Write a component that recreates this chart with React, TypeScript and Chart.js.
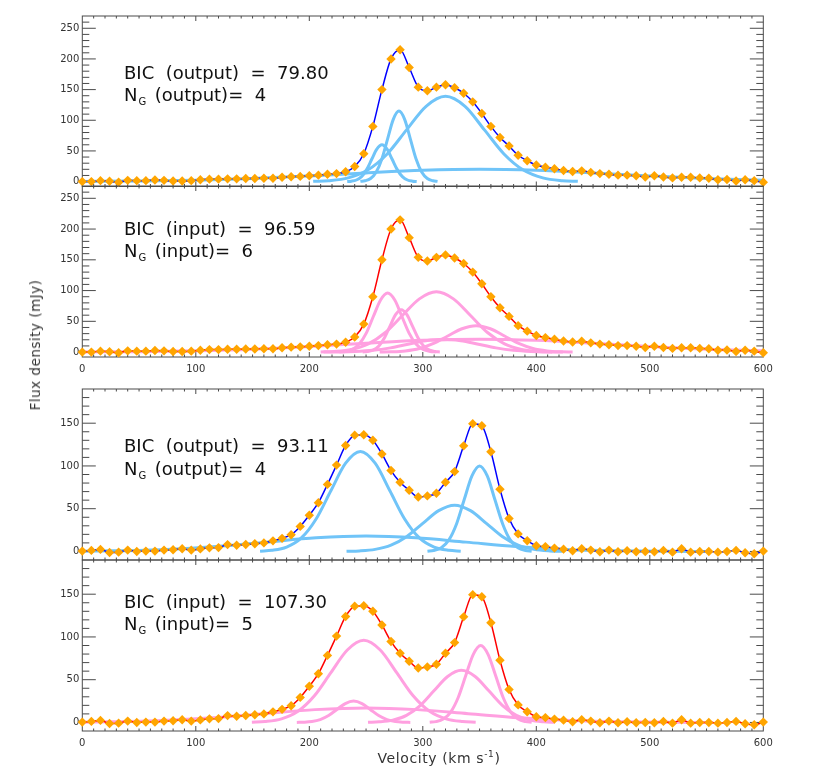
import React, { useEffect, useRef } from 'react';
import { Chart, registerables } from 'chart.js';

Chart.register(...registerables);

type Pair = [number, number];

// velocity channels (km/s)
const velocity = [
  0, 8, 16, 24, 32, 40, 48, 56, 64, 72,
  80, 88, 96, 104, 112, 120, 128, 136, 144, 152,
  160, 168, 176, 184, 192, 200, 208, 216, 224, 232,
  240, 248, 256, 264, 272, 280, 288, 296, 304, 312,
  320, 328, 336, 344, 352, 360, 368, 376, 384, 392,
  400, 408, 416, 424, 432, 440, 448, 456, 464, 472,
  480, 488, 496, 504, 512, 520, 528, 536, 544, 552,
  560, 568, 576, 584, 592, 600,
];

// observed spectrum used in the two upper panels (mJy)
const fluxA = [
  0, 0, 1.5, 0.5, -1, 2, 1.5, 1.5, 2.5, 2,
  1, 1, 1.5, 3, 4, 4, 4.5, 4.5, 5, 5,
  5.5, 5.5, 7, 8, 8.5, 9.5, 10.5, 12, 13, 16,
  24.5, 45.5, 90, 150, 200, 215, 186, 154, 148, 154,
  158, 153, 144, 130, 111, 90, 72, 58, 43, 34,
  27, 23.5, 21, 18, 16.5, 17.5, 15, 13, 12, 10.5,
  10.5, 9.5, 7.5, 9.5, 7.5, 6, 7, 7, 6, 5.5,
  3, 3.5, 1, 3, 1.5, -1,
];

// observed spectrum used in the two lower panels (mJy)
const fluxB = [
  0.4, 1.2, 2.4, -1.2, -0.8, 1.6, 0, 0.4, 0.4, 1.6,
  2, 3.1, 1.6, 3, 4.2, 4.5, 8, 7.3, 8.2, 9,
  10, 12.4, 15.3, 19.6, 29.3, 42.4, 57, 78.4, 101, 124,
  136, 136.5, 130, 114, 94.6, 81, 71.5, 63.6, 65, 68,
  81, 93.4, 123.5, 149.5, 147, 116.6, 72.8, 38.5, 20.5, 12.6,
  6.7, 5.7, 3.9, 2.7, 0.8, 3.1, 1.6, -0.4, 1.6, -0.4,
  0.8, -0.4, 0, -0.4, 1.2, -0.8, 3.1, -0.8, 0, 0,
  -0.8, 0, 1.2, -1.6, -2.7, 0.4,
];

// gaussian components, [velocity, flux]
const outA1: Pair[] = [[233.4, 0.19], [237, 0.67], [241.5, 2.6], [246, 8.1], [250.5, 19.5], [255, 36.4], [259.5, 53], [264, 60], [268.5, 53], [273, 36.4], [277.5, 19.5], [282, 8.1], [286.5, 2.6], [291, 0.67], [294.6, 0.19]];
const outA2: Pair[] = [[245, 0.36], [249, 1.3], [254, 5], [259, 15.6], [264, 37.3], [269, 69.7], [274, 101.5], [279, 115], [284, 101.5], [289, 69.7], [294, 37.3], [299, 15.6], [304, 5], [309, 1.3], [313, 0.36]];
const outA3: Pair[] = [[203.4, 0.43], [217.1, 1.54], [234.3, 6.1], [251.4, 18.8], [268.6, 45.1], [285.7, 84.3], [302.9, 122.7], [320, 139], [337.2, 122.7], [354.3, 84.3], [371.5, 45.1], [388.6, 18.8], [405.7, 6.1], [422.9, 1.54], [436.6, 0.43]];
const outA4: Pair[] = [[0, 0.28], [50, 0.88], [100, 2.3], [150, 5], [200, 9.2], [250, 14.1], [300, 18.3], [350, 20], [400, 18.3], [450, 14.1], [500, 9.2], [550, 5], [600, 2.3]];

const inA1: Pair[] = [[226.5, 0.3], [231.5, 1.07], [237.8, 4.2], [244, 13], [250.3, 31.2], [256.5, 58.2], [262.8, 84.7], [269, 96], [275.3, 84.7], [281.5, 58.2], [287.8, 31.2], [294, 13], [300.3, 4.2], [306.5, 1.07], [311.5, 0.3]];
const inA2: Pair[] = [[247, 0.21], [251, 0.77], [256, 3], [261, 9.3], [266, 22.4], [271, 41.8], [276, 60.9], [281, 69], [286, 60.9], [291, 41.8], [296, 22.4], [301, 9.3], [306, 3], [311, 0.77], [315, 0.21]];
const inA3: Pair[] = [[210, 0.3], [222, 1.09], [237, 4.3], [252, 13.3], [267, 31.8], [282, 59.4], [297, 86.5], [312, 98], [327, 86.5], [342, 59.4], [357, 31.8], [372, 13.3], [387, 4.3], [402, 1.09], [414, 0.3]];
const inA4: Pair[] = [[262, 0.13], [272, 0.48], [284.5, 1.9], [297, 5.8], [309.5, 14], [322, 26.1], [334.5, 37.9], [347, 43], [359.5, 37.9], [372, 26.1], [384.5, 14], [397, 5.8], [409.5, 1.9], [422, 0.48], [432, 0.13]];
const inA5: Pair[] = [[0, 0.2], [50, 0.7], [100, 2], [150, 4.6], [200, 9], [250, 14.4], [300, 19.1], [350, 21], [400, 19.1], [450, 14.4], [500, 9], [550, 4.6], [600, 2]];
const inA6: Pair[] = [[212.6, 0.07], [225, 0.23], [240.5, 0.92], [256, 2.8], [271.5, 6.8], [287, 12.7], [302.5, 18.5], [318, 21], [333.5, 18.5], [349, 12.7], [364.5, 6.8], [380, 2.8], [395.5, 0.92], [411, 0.23], [423.4, 0.07]];

const outB1: Pair[] = [[156.6, 0.36], [167, 1.3], [180, 5.1], [193, 15.8], [206, 38], [219, 71], [232, 103.3], [245, 117], [258, 103.3], [271, 71], [284, 38], [297, 15.8], [310, 5.1], [323, 1.3], [333.4, 0.36]];
const outB2: Pair[] = [[304.1, 0.31], [309.5, 1.11], [316.3, 4.4], [323, 13.5], [329.8, 32.5], [336.5, 60.7], [343.3, 88.3], [350, 100], [356.8, 88.3], [363.5, 60.7], [370.3, 32.5], [377, 13.5], [383.8, 4.4], [390.5, 1.11], [395.9, 0.31]];
const outB3: Pair[] = [[232.8, 0.17], [244, 0.6], [258, 2.4], [272, 7.3], [286, 17.5], [300, 32.8], [314, 47.7], [328, 54], [342, 47.7], [356, 32.8], [370, 17.5], [384, 7.3], [398, 2.4], [412, 0.6], [423.2, 0.17]];
const outB4: Pair[] = [[0, 0.32], [30, 0.79], [74, 2.4], [118, 5.8], [162, 10.9], [206, 15.9], [250, 18], [294, 15.9], [338, 10.9], [382, 5.8], [426, 2.4], [470, 0.79], [514, 0.2], [549, 0.06]];

const inB1: Pair[] = [[149.4, 0.3], [161, 1.07], [175.5, 4.2], [190, 13], [204.5, 31.2], [219, 58.2], [233.5, 84.7], [248, 96], [262.5, 84.7], [277, 58.2], [291.5, 31.2], [306, 13], [320.5, 4.2], [335, 1.07], [346.6, 0.3]];
const inB2: Pair[] = [[189, 0.08], [194.9, 0.28], [202.3, 1.1], [209.6, 3.4], [217, 8.1], [224.3, 15.2], [231.7, 22.1], [239, 25], [246.4, 22.1], [253.7, 15.2], [261.1, 8.1], [268.4, 3.4], [275.8, 1.1], [283.1, 0.28], [289, 0.08]];
const inB3: Pair[] = [[251.7, 0.19], [261.4, 0.68], [273.5, 2.7], [285.6, 8.3], [297.7, 19.8], [309.8, 37], [321.9, 53.8], [334, 61], [346.1, 53.8], [358.2, 37], [370.3, 19.8], [382.4, 8.3], [394.5, 2.7], [406.6, 0.68], [416.3, 0.19]];
const inB4: Pair[] = [[306.1, 0.28], [311.4, 1], [318, 4], [324.6, 12.2], [331.2, 29.2], [337.8, 54.6], [344.4, 79.4], [351, 90], [357.6, 79.4], [364.2, 54.6], [370.8, 29.2], [377.4, 12.2], [384, 4], [390.6, 1], [395.9, 0.28]];
const inB5: Pair[] = [[0, 0.36], [25, 0.75], [70, 2.3], [115, 5.5], [160, 10.3], [205, 15], [250, 17], [295, 15], [340, 10.3], [385, 5.5], [430, 2.3], [475, 0.75], [520, 0.19], [556, 0.05]];

// tick labels
const xTicks = [0, 100, 200, 300, 400, 500, 600];
const yTicksTall = [0, 50, 100, 150, 200, 250];
const yTicksShort = [0, 50, 100, 150];

const ORANGE = '#ffa500';
const BLUE = '#0000ff';
const RED = '#ff0000';
const SKY = '#70c4f8';
const PINK = '#ffa0e0';
const AXIS = '#4a4a4a';
const LABEL = '#333333';
const FONT = '"DejaVu Sans", sans-serif';

const PAD_TOP = 10;
const PAD_BOTTOM = 25;
const PLOT_LEFT = 82.3;
const PLOT_RIGHT = 763.3;
const WIDTH = 830;

interface PanelProps {
  top: number;
  bottom: number;
  yMin: number;
  yMax: number;
  yTicks: number[];
  showX: boolean;
  flux: number[];
  fitColor: string;
  compColor: string;
  comps: Pair[][];
  kind: string;
  bic: string;
  ng: string;
  textY: [number, number];
}

const Panel: React.FC<PanelProps> = (p) => {
  const canvasRef = useRef<HTMLCanvasElement>(null);

  useEffect(() => {
    if (!canvasRef.current) return;

    // IDL-style box: inward ticks on all four sides, labels left / bottom
    const frame = {
      id: 'idlFrame',
      beforeDatasetsDraw(chart: any) {
        const { ctx, chartArea: a, scales } = chart;
        const xs = scales.x;
        const ys = scales.y;
        ctx.save();
        ctx.strokeStyle = AXIS;
        ctx.lineWidth = 1;
        ctx.strokeRect(a.left, a.top, a.right - a.left, a.bottom - a.top);
        ctx.beginPath();
        for (let v = 10; v < 600; v += 10) {
          const px = xs.getPixelForValue(v);
          const len = v % 100 === 0 ? 5 : 2.5;
          ctx.moveTo(px, a.bottom);
          ctx.lineTo(px, a.bottom - len);
          ctx.moveTo(px, a.top);
          ctx.lineTo(px, a.top + len);
        }
        for (let v = 0; v < p.yMax; v += 10) {
          if (v <= p.yMin) continue;
          const py = ys.getPixelForValue(v);
          const len = v % 50 === 0 ? 13.5 : 7;
          ctx.moveTo(a.left, py);
          ctx.lineTo(a.left + len, py);
          ctx.moveTo(a.right, py);
          ctx.lineTo(a.right - len, py);
        }
        ctx.stroke();

        ctx.fillStyle = LABEL;
        ctx.font = `10px ${FONT}`;
        ctx.textAlign = 'right';
        ctx.textBaseline = 'middle';
        p.yTicks.forEach((v) => ctx.fillText(String(v), a.left - 3, ys.getPixelForValue(v)));
        if (p.showX) {
          ctx.textAlign = 'center';
          xTicks.forEach((v) => ctx.fillText(String(v), xs.getPixelForValue(v), a.bottom + 12.5));
        }
        ctx.restore();
      },
      afterDraw(chart: any) {
        const { ctx, chartArea: a } = chart;
        const x0 = 124;
        ctx.save();
        ctx.fillStyle = '#111';
        ctx.textAlign = 'left';
        ctx.textBaseline = 'alphabetic';
        ctx.font = `18px ${FONT}`;
        ctx.fillText(`BIC  (${p.kind})  =  ${p.bic}`, x0, a.top + p.textY[0]);
        const y2 = a.top + p.textY[1];
        ctx.fillText('N', x0, y2);
        const nW = ctx.measureText('N').width;
        ctx.font = `10px ${FONT}`;
        ctx.fillText('G', x0 + nW + 1, y2 + 4);
        const gW = ctx.measureText('G').width;
        ctx.font = `18px ${FONT}`;
        ctx.fillText(`(${p.kind})=  ${p.ng}`, x0 + nW + 1 + gW + 8.5, y2);
        ctx.restore();
      },
    };

    const points = velocity.map((v, i) => ({ x: v, y: p.flux[i] }));

    const chart = new Chart(canvasRef.current, {
      type: 'scatter',
      data: {
        datasets: [
          {
            data: points,
            showLine: false,
            pointStyle: 'rectRot',
            pointRadius: 4.7,
            pointBackgroundColor: ORANGE,
            pointBorderColor: ORANGE,
            pointBorderWidth: 0,
            clip: false,
          },
          {
            data: points,
            showLine: true,
            borderColor: p.fitColor,
            borderWidth: 1.5,
            pointRadius: 0,
            cubicInterpolationMode: 'monotone',
          },
          ...p.comps.map((c) => ({
            data: c.map(([x, y]) => ({ x, y })),
            showLine: true,
            borderColor: p.compColor,
            borderWidth: 3,
            pointRadius: 0,
            cubicInterpolationMode: 'monotone' as const,
          })),
        ],
      },
      options: {
        animation: false,
        responsive: true,
        maintainAspectRatio: false,
        events: [],
        layout: {
          padding: { left: PLOT_LEFT, right: WIDTH - PLOT_RIGHT, top: PAD_TOP, bottom: PAD_BOTTOM },
        },
        plugins: {
          legend: { display: false },
          tooltip: { enabled: false },
        },
        scales: {
          x: { type: 'linear', min: 0, max: 600, display: false },
          y: { type: 'linear', min: p.yMin, max: p.yMax, display: false },
        },
      },
      plugins: [frame],
    });

    return () => {
      chart.destroy();
    };
  }, []);

  return (
    <div
      style={{
        position: 'absolute',
        left: 0,
        top: p.top - PAD_TOP,
        width: WIDTH,
        height: p.bottom - p.top + PAD_TOP + PAD_BOTTOM,
      }}
    >
      <canvas ref={canvasRef} />
    </div>
  );
};

const App: React.FC = () => {
  return (
    <div
      style={{
        position: 'fixed',
        left: 0,
        top: 0,
        width: WIDTH,
        height: 778,
        background: '#fff',
        fontFamily: FONT,
        color: LABEL,
      }}
    >
      <Panel top={15.5} bottom={186} yMin={-8} yMax={270} yTicks={yTicksTall} showX={false}
        flux={fluxA} fitColor={BLUE} compColor={SKY} comps={[outA1, outA2, outA3, outA4]}
        kind="output" bic="79.80" ng="4" textY={[63, 84.5]} />
      <Panel top={186} bottom={357} yMin={-8} yMax={270} yTicks={yTicksTall} showX={true}
        flux={fluxA} fitColor={RED} compColor={PINK} comps={[inA1, inA2, inA3, inA4, inA5, inA6]}
        kind="input" bic="96.59" ng="6" textY={[49, 71]} />
      <Panel top={389} bottom={560} yMin={-10} yMax={190} yTicks={yTicksShort} showX={false}
        flux={fluxB} fitColor={BLUE} compColor={SKY} comps={[outB1, outB2, outB3, outB4]}
        kind="output" bic="93.11" ng="4" textY={[62.5, 85.5]} />
      <Panel top={560} bottom={731} yMin={-10} yMax={190} yTicks={yTicksShort} showX={true}
        flux={fluxB} fitColor={RED} compColor={PINK} comps={[inB1, inB2, inB3, inB4, inB5]}
        kind="input" bic="107.30" ng="5" textY={[48, 70]} />

      <div
        style={{
          position: 'absolute',
          left: 35,
          top: 345,
          transform: 'translate(-50%, -50%) rotate(-90deg)',
          fontSize: 13.5,
          lineHeight: '14px',
          letterSpacing: '0.5px',
          whiteSpace: 'nowrap',
        }}
      >
        Flux density (mJy)
      </div>
      <div
        style={{
          position: 'absolute',
          left: 439,
          top: 751,
          transform: 'translateX(-50%)',
          fontSize: 14,
          lineHeight: '14px',
          letterSpacing: '0.6px',
          whiteSpace: 'nowrap',
        }}
      >
        Velocity (km s<sup style={{ fontSize: 9, verticalAlign: 'super', lineHeight: 0 }}>-1</sup>)
      </div>
    </div>
  );
};

export default App;
